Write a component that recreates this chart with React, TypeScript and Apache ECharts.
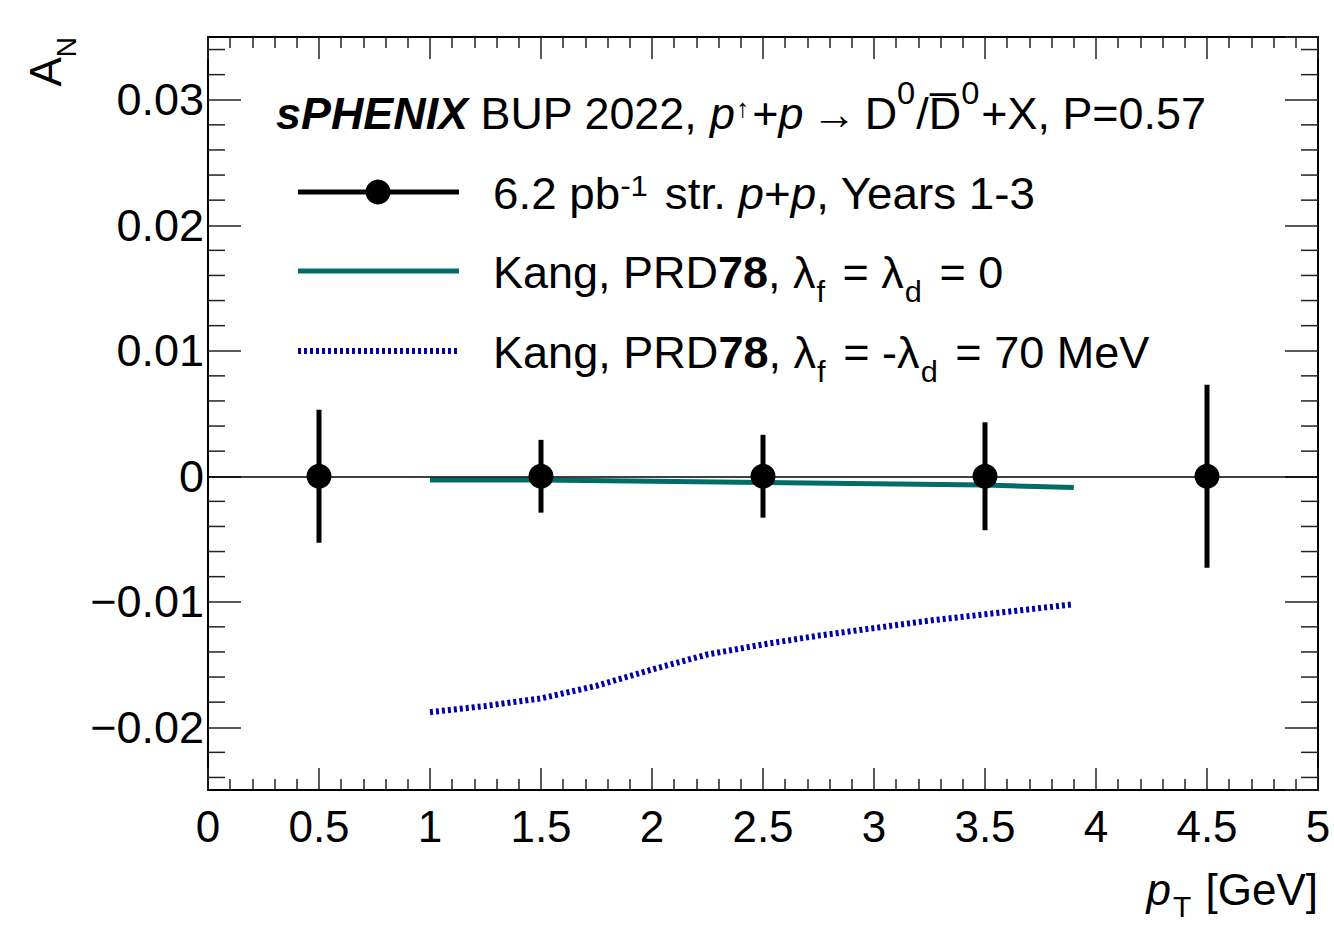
import React, { useEffect, useRef } from 'react';
import * as echarts from 'echarts';

// Data points (A_N = 0 projections with stat. uncertainties)
const pointX = [0.5, 1.5, 2.5, 3.5, 4.5];
const pointY = [0, 0, 0, 0, 0];
const pointErr = [0.0053, 0.0029, 0.0033, 0.0043, 0.0073];

// Kang, PRD78, lambda_f = lambda_d = 0
const kangZeroX = [1.0, 1.5, 2.0, 2.5, 3.0, 3.5, 3.9];
const kangZeroY = [-0.0003, -0.0003, -0.0004, -0.0005, -0.0006, -0.0007, -0.0009];

// Kang, PRD78, lambda_f = -lambda_d = 70 MeV
const kang70X = [1.0, 1.25, 1.5, 1.75, 2.0, 2.25, 2.5, 2.75, 3.0, 3.25, 3.5, 3.75, 3.9];
const kang70Y = [-0.0188, -0.0183, -0.0177, -0.0167, -0.0154, -0.0142, -0.0134, -0.0127, -0.0121, -0.0115, -0.011, -0.0105, -0.0102];

// Axis ranges / ticks
const xMin = 0;
const xMax = 5;
const xInterval = 0.5;
const yMin = -0.025;
const yMax = 0.035;
const yMinorTicks = [
  -0.024, -0.022, -0.018, -0.016, -0.014, -0.012, -0.008, -0.006, -0.004, -0.002,
  0.002, 0.004, 0.006, 0.008, 0.012, 0.014, 0.016, 0.018, 0.022, 0.024, 0.026, 0.028,
  0.032, 0.034,
];

const FONT = 'Liberation Sans, Arial, Helvetica, sans-serif';
const FS = 44;

const fmtY = (v: number) => {
  const r = Math.round(v * 1000) / 1000;
  if (Math.abs(Math.round(r * 100) - r * 100) > 1e-6) return '';
  if (Math.abs(r) < 1e-9) return '0';
  const s = Math.abs(r).toFixed(2);
  return r < 0 ? '\u2212' + s : s;
};

const t = (extra: any) => ({ fontFamily: FONT, color: '#000', fontSize: FS, ...extra });

export default function App() {
  const ref = useRef<HTMLDivElement>(null);

  useEffect(() => {
    if (!ref.current) return;
    const chart = echarts.init(ref.current, undefined, { renderer: 'svg' });

    const common = {
      i: t({ fontStyle: 'italic' }),
      b: t({ fontWeight: 'bold' }),
      bi: t({ fontWeight: 'bold', fontStyle: 'italic' }),
    };

    const headerRich = {
      ...common,
      arr: t({ padding: [0, 8, 0, 8] }),
      supA: t({ fontSize: 26, lineHeight: 26, verticalAlign: 'middle', padding: [0, 3, 12, 1] }),
      sup1: t({ fontSize: 32, lineHeight: 32, verticalAlign: 'top', padding: [0, 1, 0, 0] }),
      sup2: t({ fontSize: 32, lineHeight: 26, verticalAlign: 'top', padding: [0, 2, 0, 0] }),
    };
    const row1Rich = {
      ...common,
      sup: t({ fontSize: 30, lineHeight: 30, verticalAlign: 'top', padding: [0, 4, 0, 0] }),
    };
    const rowSubRich = {
      ...common,
      sub: t({ fontSize: 30, lineHeight: 28, verticalAlign: 'bottom', padding: [0, 5, 0, 1] }),
    };
    const yTitleRich = {
      ...common,
      sub: t({ fontSize: 28, lineHeight: 28, verticalAlign: 'bottom' }),
    };
    const xTitleRich = {
      ...common,
      sub: t({ fontSize: 30, lineHeight: 30, verticalAlign: 'bottom', padding: [0, 2, 0, 2] }),
    };

    const tickStyle = { color: '#222', width: 1.5 };

    const option: any = {
      animation: false,
      backgroundColor: '#fff',
      grid: { left: 208, right: 16, top: 37, bottom: 135, containLabel: false, show: false },
      xAxis: [
        {
          type: 'value',
          position: 'bottom',
          min: xMin,
          max: xMax,
          interval: xInterval,
          axisLine: { show: true, onZero: false, lineStyle: { color: '#000', width: 2 } },
          axisTick: { show: true, inside: true, length: 22, lineStyle: tickStyle },
          minorTick: { show: true, splitNumber: 5, length: 11, lineStyle: tickStyle },
          splitLine: { show: false },
          axisLabel: {
            show: true,
            fontSize: FS,
            fontFamily: FONT,
            color: '#000',
            margin: 14,
            formatter: (v: number) => String(Math.round(v * 10) / 10),
          },
        },
        {
          type: 'value',
          position: 'top',
          min: xMin,
          max: xMax,
          interval: xInterval,
          axisLine: { show: true, onZero: false, lineStyle: { color: '#000', width: 2 } },
          axisTick: { show: true, inside: true, length: 22, lineStyle: tickStyle },
          minorTick: { show: true, splitNumber: 5, length: 11, lineStyle: tickStyle },
          splitLine: { show: false },
          axisLabel: { show: false },
        },
      ],
      yAxis: [
        {
          type: 'value',
          position: 'left',
          min: yMin,
          max: yMax,
          splitNumber: 6,
          axisLine: { show: true, onZero: false, lineStyle: { color: '#000', width: 2 } },
          axisTick: { show: true, inside: true, length: 33, lineStyle: tickStyle },
          splitLine: { show: false },
          axisLabel: {
            show: true,
            fontSize: 45,
            fontFamily: FONT,
            color: '#000',
            margin: 4,
            showMinLabel: false,
            showMaxLabel: false,
            formatter: fmtY,
          },
        },
        {
          type: 'value',
          position: 'right',
          min: yMin,
          max: yMax,
          splitNumber: 6,
          axisLine: { show: true, onZero: false, lineStyle: { color: '#000', width: 2 } },
          axisTick: { show: true, inside: true, length: 33, lineStyle: tickStyle },
          splitLine: { show: false },
          axisLabel: { show: false },
        },
      ],
      series: [
        {
          name: 'minorY',
          type: 'custom',
          xAxisIndex: 0,
          yAxisIndex: 0,
          silent: true,
          clip: false,
          data: yMinorTicks.map((v) => [xMin, v]),
          renderItem: (params: any, api: any) => {
            const v = api.value(1);
            const p = api.coord([xMin, v]);
            const q = api.coord([xMax, v]);
            return {
              type: 'group',
              children: [
                { type: 'line', shape: { x1: p[0], y1: p[1], x2: p[0] + 17, y2: p[1] }, style: { stroke: '#222', lineWidth: 1.5 } },
                { type: 'line', shape: { x1: q[0] - 17, y1: q[1], x2: q[0], y2: q[1] }, style: { stroke: '#222', lineWidth: 1.5 } },
              ],
            };
          },
          z: 1,
        },
        {
          name: 'Kang zero',
          type: 'line',
          data: kangZeroX.map((x, i) => [x, kangZeroY[i]]),
          showSymbol: false,
          symbol: 'none',
          lineStyle: { color: '#006c68', width: 5 },
          z: 2,
          markLine: {
            silent: true,
            symbol: 'none',
            label: { show: false },
            lineStyle: { color: '#000', width: 1.5, type: 'solid' },
            data: [{ yAxis: 0 }],
          },
        },
        {
          name: 'Kang 70',
          type: 'line',
          data: kang70X.map((x, i) => [x, kang70Y[i]]),
          showSymbol: false,
          symbol: 'none',
          lineStyle: { color: '#0000a8', width: 6, type: [3, 3] },
          z: 2,
        },
        {
          name: 'errors',
          type: 'custom',
          data: pointX.map((x, i) => [x, pointY[i], pointErr[i]]),
          encode: { x: 0, y: 1 },
          renderItem: (params: any, api: any) => {
            const x = api.value(0);
            const y = api.value(1);
            const e = api.value(2);
            const top = api.coord([x, y + e]);
            const bot = api.coord([x, y - e]);
            return {
              type: 'line',
              shape: { x1: top[0], y1: top[1], x2: bot[0], y2: bot[1] },
              style: { stroke: '#000', lineWidth: 5 },
            };
          },
          z: 3,
        },
        {
          name: 'points',
          type: 'scatter',
          data: pointX.map((x, i) => [x, pointY[i]]),
          symbol: 'circle',
          symbolSize: 25,
          itemStyle: { color: '#000', opacity: 1 },
          z: 4,
        },
      ],
      graphic: [
        // Y axis title
        {
          type: 'text',
          x: 45,
          y: 37,
          rotation: Math.PI / 2,
          style: {
            text: 'A{sub|N}',
            fontSize: FS,
            fontFamily: FONT,
            fill: '#000',
            lineHeight: 70,
            align: 'right',
            verticalAlign: 'middle',
            rich: yTitleRich,
          },
        },
        // X axis title
        {
          type: 'text',
          x: 1318,
          y: 889,
          style: {
            text: '{i|p}{sub|T} [GeV]',
            fontSize: FS,
            fontFamily: FONT,
            fill: '#000',
            lineHeight: 64,
            align: 'right',
            verticalAlign: 'middle',
            rich: xTitleRich,
          },
        },
        // Header
        {
          type: 'text',
          x: 276,
          y: 114,
          scaleX: 1.02,
          style: {
            text: '{bi|sPHENIX} BUP 2022, {i|p}{supA|\u2191}+{i|p}{arr|\u2192}D{sup1|0}/D\u0305{sup2|0}+X, P=0.57',
            fontSize: FS,
            fontFamily: FONT,
            fill: '#000',
            lineHeight: 74,
            align: 'left',
            verticalAlign: 'middle',
            rich: headerRich,
          },
        },
        // Legend row 1
        { type: 'line', shape: { x1: 298, y1: 192, x2: 459, y2: 192 }, style: { stroke: '#000', lineWidth: 5 } },
        { type: 'circle', shape: { cx: 378, cy: 192, r: 12.5 }, style: { fill: '#000' } },
        {
          type: 'text',
          x: 493,
          y: 194,
          scaleX: 1.04,
          style: {
            text: '6.2 pb{sup|-1} str. {i|p}+{i|p}, Years 1-3',
            fontSize: FS,
            fontFamily: FONT,
            fill: '#000',
            lineHeight: 47,
            verticalAlign: 'middle',
            rich: row1Rich,
          },
        },
        // Legend row 2
        { type: 'line', shape: { x1: 298, y1: 271, x2: 459, y2: 271 }, style: { stroke: '#006c68', lineWidth: 5 } },
        {
          type: 'text',
          x: 493,
          y: 273,
          scaleX: 1.022,
          style: {
            text: 'Kang, PRD{b|78}, \u03bb{sub|f} = \u03bb{sub|d} = 0',
            fontSize: FS,
            fontFamily: FONT,
            fill: '#000',
            lineHeight: 68,
            verticalAlign: 'middle',
            rich: rowSubRich,
          },
        },
        // Legend row 3
        { type: 'line', shape: { x1: 298, y1: 351, x2: 459, y2: 351 }, style: { stroke: '#0000a8', lineWidth: 6, lineDash: [3, 3] } },
        {
          type: 'text',
          x: 493,
          y: 353,
          scaleX: 1.024,
          style: {
            text: 'Kang, PRD{b|78}, \u03bb{sub|f} = -\u03bb{sub|d} = 70 MeV',
            fontSize: FS,
            fontFamily: FONT,
            fill: '#000',
            lineHeight: 68,
            verticalAlign: 'middle',
            rich: rowSubRich,
          },
        },
      ],
    };

    chart.setOption(option);
    return () => chart.dispose();
  }, []);

  return <div ref={ref} style={{ position: 'absolute', left: 0, top: 0, width: 1334, height: 925 }} />;
}
